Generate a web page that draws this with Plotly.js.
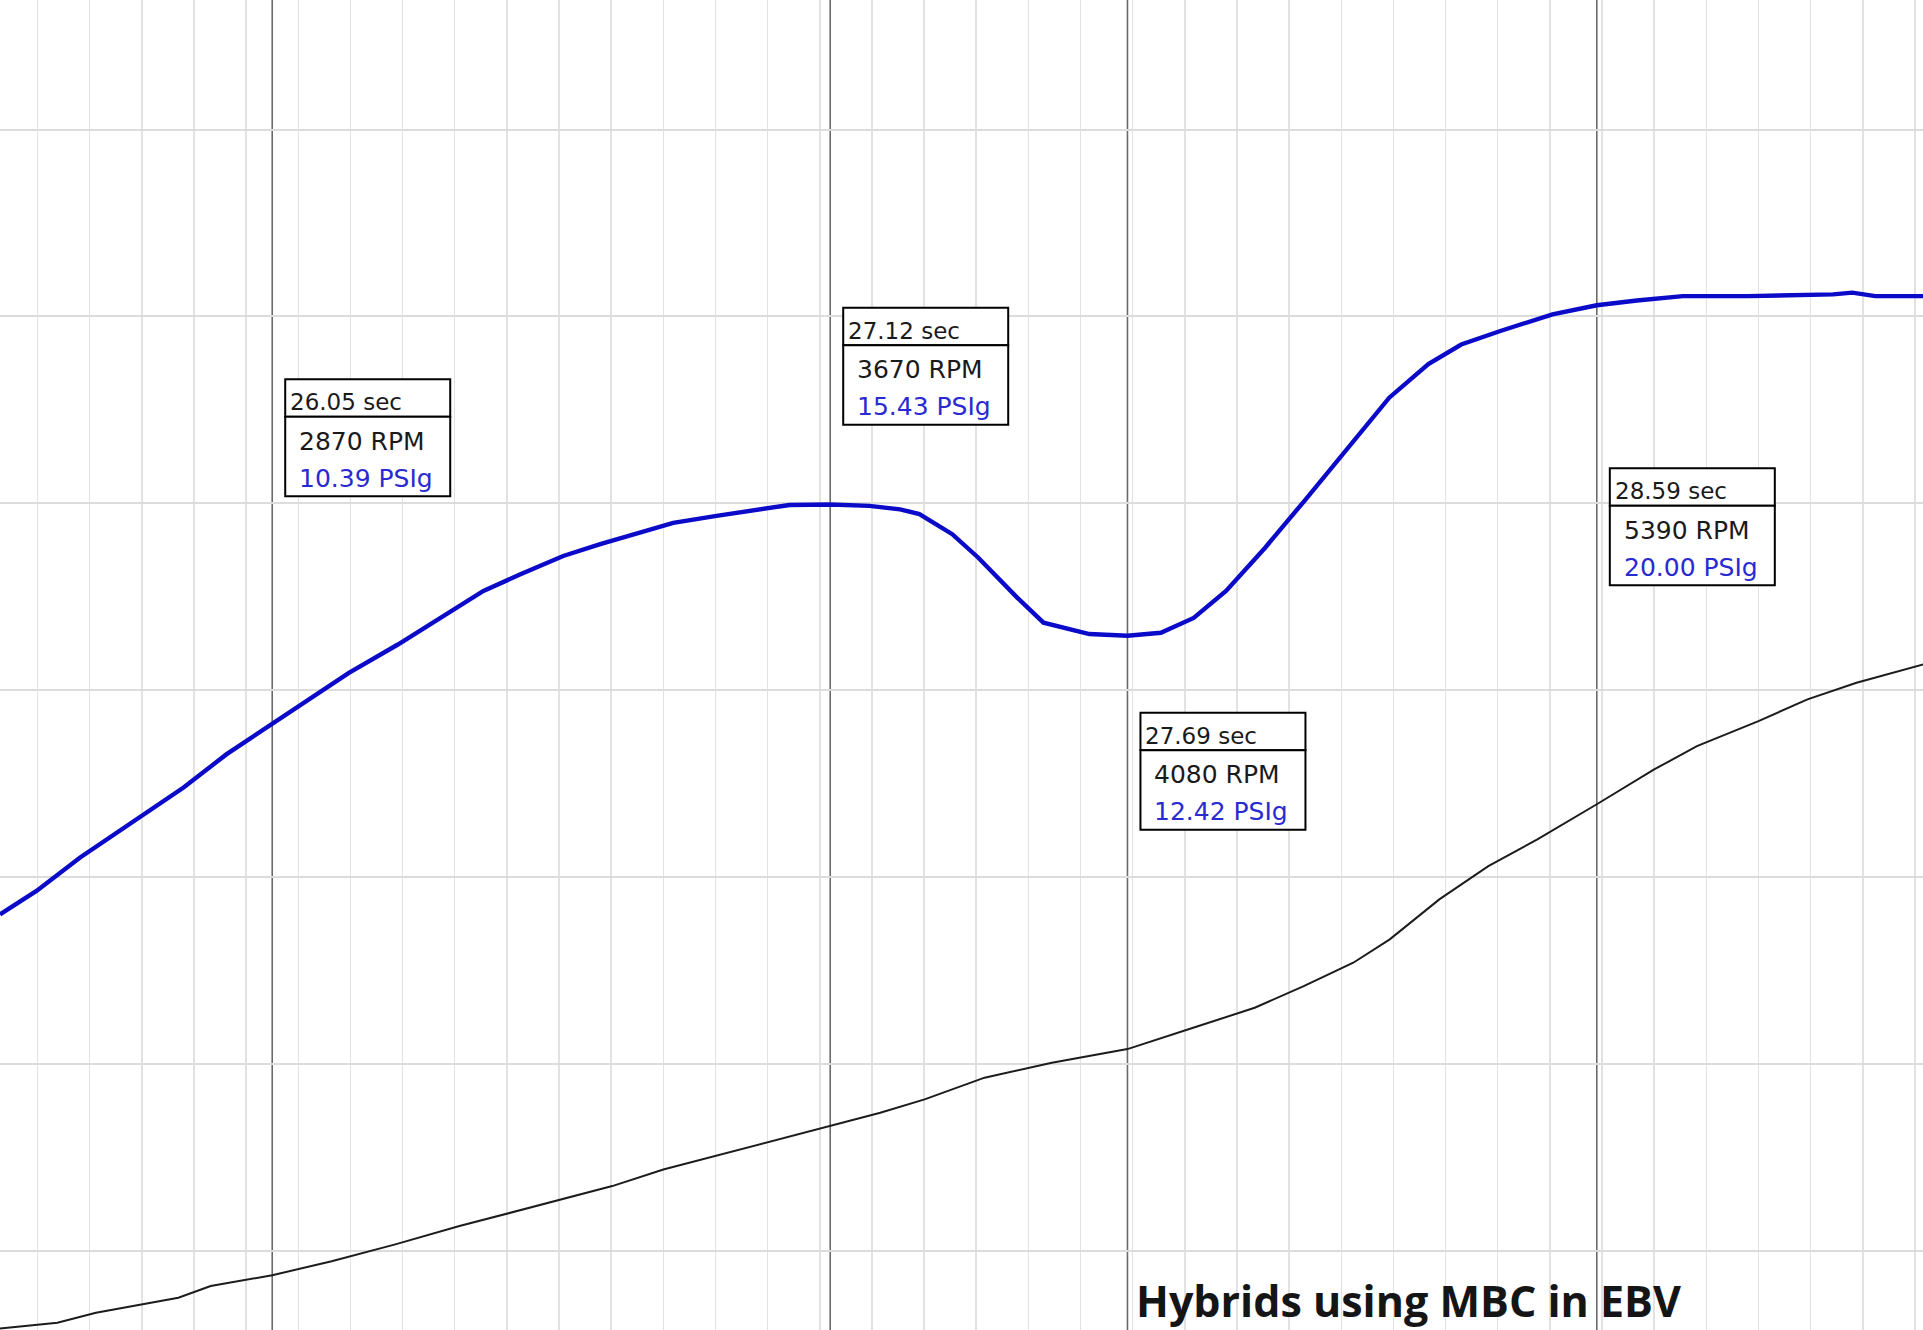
<!DOCTYPE html>
<html>
<head>
<meta charset="utf-8">
<script src="https://cdn.plot.ly/plotly-3.0.1.min.js"></script>
<style>
  html, body { margin: 0; padding: 0; background: #ffffff; }
  #chart { width: 1923px; height: 1330px; }
</style>
</head>
<body>
<div id="chart"></div>
<script>
// Boost pressure log (PSIg) against time (sec)
const timeBoost = [25.528, 25.598, 25.681, 25.786, 25.880, 25.962, 26.05, 26.138, 26.197, 26.291,
  26.373, 26.455, 26.526, 26.608, 26.679, 26.761, 26.819, 26.902, 26.972, 27.042,
  27.12, 27.195, 27.254, 27.291, 27.354, 27.404, 27.479, 27.529, 27.617, 27.69,
  27.754, 27.817, 27.879, 27.954, 28.029, 28.117, 28.192, 28.267, 28.330, 28.405,
  28.505, 28.59, 28.667, 28.755, 28.880, 29.043, 29.080, 29.124, 29.216];
const boostPsi = [6.03, 6.57, 7.33, 8.17, 8.94, 9.70, 10.39, 11.08, 11.57, 12.22,
  12.83, 13.45, 13.83, 14.25, 14.52, 14.82, 15.01, 15.17, 15.30, 15.42,
  15.43, 15.40, 15.32, 15.21, 14.75, 14.21, 13.29, 12.72, 12.46, 12.42,
  12.49, 12.83, 13.45, 14.44, 15.51, 16.81, 17.88, 18.65, 19.10, 19.41,
  19.79, 20.00, 20.11, 20.21, 20.21, 20.25, 20.29, 20.21, 20.21];

// Engine speed log (RPM) against time (sec)
const timeRpm = [25.528, 25.638, 25.712, 25.870, 25.932, 26.05, 26.164, 26.286, 26.409, 26.506,
  26.604, 26.702, 26.800, 26.910, 27.020, 27.12, 27.216, 27.301, 27.416, 27.545,
  27.69, 27.816, 27.934, 28.028, 28.123, 28.193, 28.288, 28.382, 28.476, 28.59,
  28.700, 28.782, 28.900, 28.994, 29.088, 29.216];
const rpm = [2585, 2616, 2669, 2750, 2812, 2870, 2945, 3035, 3133, 3204,
  3276, 3347, 3436, 3516, 3597, 3670, 3739, 3811, 3927, 4007,
  4080, 4194, 4301, 4417, 4542, 4667, 4881, 5059, 5202, 5390,
  5576, 5701, 5835, 5951, 6040, 6138];

// Cursor readouts
const cursorTimes = [26.05, 27.12, 27.69, 28.59];
const cursorRpm = [2870, 3670, 4080, 5390];
const cursorPsi = [10.39, 15.43, 12.42, 20.00];

const chartTitle = 'Hybrids using MBC in EBV';

// ---- layout constants (pixels) ----
const W = 1923, H = 1330;
const timeRange = [25.528, 29.2155];
const rpmRange = [2577, 9693];
const psiRange = [-3.5, 27.0];
const boxTops = [379.3, 307.7, 712.7, 468.3];   // top edge of each readout box
const boxLeft = 13, boxRight = 178;              // offset from its cursor line
const headH = 37.5, bodyH = 79.5;

const py = (px) => 1 - px / H;   // pixel row -> paper fraction

const traces = [
  {
    x: timeRpm, y: rpm, type: 'scatter', mode: 'lines', yaxis: 'y',
    line: { color: '#1c1c1c', width: 2 }, hoverinfo: 'skip'
  },
  {
    x: timeBoost, y: boostPsi, type: 'scatter', mode: 'lines', yaxis: 'y2',
    line: { color: '#0a0ac8', width: 4.4 }, hoverinfo: 'skip'
  }
];

const shapes = [];
const annotations = [];

cursorTimes.forEach((t, i) => {
  // cursor line
  shapes.push({
    type: 'line', xref: 'x', yref: 'paper', x0: t, x1: t, y0: 0, y1: 1,
    line: { color: '#6a6a6a', width: 1.6 }, layer: 'below'
  });
  const top = py(boxTops[i]);
  // header box
  shapes.push({
    type: 'rect', xref: 'x', xsizemode: 'pixel', xanchor: t, x0: boxLeft, x1: boxRight,
    yref: 'paper', ysizemode: 'pixel', yanchor: top, y0: -headH, y1: 0,
    line: { color: '#000000', width: 2 }, fillcolor: '#ffffff', layer: 'above'
  });
  // value box
  shapes.push({
    type: 'rect', xref: 'x', xsizemode: 'pixel', xanchor: t, x0: boxLeft, x1: boxRight,
    yref: 'paper', ysizemode: 'pixel', yanchor: top, y0: -(headH + bodyH), y1: -headH,
    line: { color: '#000000', width: 2 }, fillcolor: '#ffffff', layer: 'above'
  });

  const base = { xref: 'x', yref: 'paper', x: t, xanchor: 'left', yanchor: 'middle',
                 showarrow: false, align: 'left' };
  annotations.push(Object.assign({}, base, {
    text: t.toFixed(2) + ' sec', xshift: boxLeft + 3, y: py(boxTops[i] + 23),
    font: { family: 'DejaVu Sans, Arial, sans-serif', size: 23, color: '#1a1a1a' }
  }));
  annotations.push(Object.assign({}, base, {
    text: cursorRpm[i] + ' RPM', xshift: boxLeft + 12, y: py(boxTops[i] + 62),
    font: { family: 'DejaVu Sans, Arial, sans-serif', size: 25, color: '#1a1a1a' }
  }));
  annotations.push(Object.assign({}, base, {
    text: cursorPsi[i].toFixed(2) + ' PSIg', xshift: boxLeft + 12, y: py(boxTops[i] + 99),
    font: { family: 'DejaVu Sans, Arial, sans-serif', size: 25, color: '#2a2ad2' }
  }));
});

// caption in the lower right
annotations.push({
  xref: 'paper', yref: 'paper', x: 1134 / W, y: py(1300),
  xanchor: 'left', yanchor: 'middle', showarrow: false,
  text: '<b>' + chartTitle + '</b>',
  font: { family: 'Open Sans, sans-serif', size: 43, color: '#151515' }
});

const layout = {
  width: W, height: H,
  margin: { l: 0, r: 0, t: 0, b: 0, pad: 0 },
  paper_bgcolor: '#ffffff', plot_bgcolor: '#ffffff',
  showlegend: false,
  xaxis: {
    range: timeRange, dtick: 0.1, tick0: 0, showgrid: true,
    gridcolor: '#e2e2e2', gridwidth: 1.5, zeroline: false,
    showticklabels: false, ticks: '', showline: false, fixedrange: true
  },
  yaxis: {
    range: rpmRange, dtick: 1000, tick0: 0, showgrid: true,
    gridcolor: '#dcdcdc', gridwidth: 2, zeroline: false,
    showticklabels: false, ticks: '', showline: false, fixedrange: true
  },
  yaxis2: {
    range: psiRange, overlaying: 'y', side: 'right', showgrid: false,
    zeroline: false, showticklabels: false, ticks: '', showline: false, fixedrange: true
  },
  shapes: shapes,
  annotations: annotations
};

Plotly.newPlot('chart', traces, layout, { displayModeBar: false, staticPlot: true });
</script>
</body>
</html>
